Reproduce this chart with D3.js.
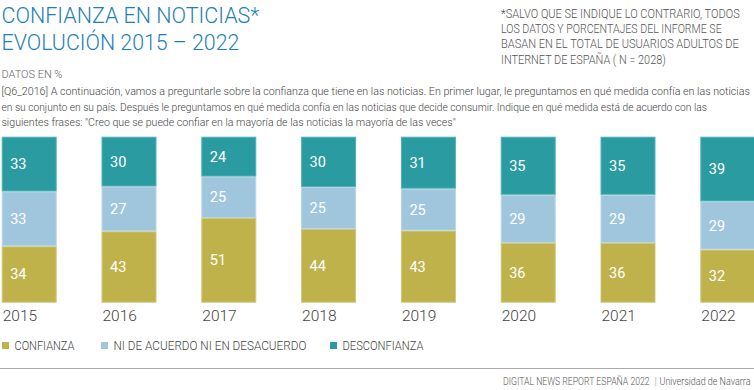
<!DOCTYPE html>
<html><head><meta charset="utf-8">
<script src="https://cdn.jsdelivr.net/npm/d3@7"></script>
<style>
html,body{margin:0;padding:0;background:#fff;}
svg{display:block;}
.cond{font-family:Roboto,"Noto Sans",sans-serif;font-weight:300;}
</style></head>
<body>
<svg id="c" width="754" height="390"></svg>
<script>
const years = ["2015","2016","2017","2018","2019","2020","2021","2022"];
const confianza = [34,43,51,44,43,36,36,32];
const neutral = [33,27,25,25,25,29,29,29];
const desconfianza = [33,30,24,30,31,35,35,39];
const seriesNames = ["CONFIANZA","NI DE ACUERDO NI EN DESACUERDO","DESCONFIANZA"];
const colors = ["#bfb24b","#9fc6dc","#2a9ca1"];
const strokes = ["#cfc57a","#b8d6e7","#4fb2b6"];

const svg = d3.select("#c");
const rows = years.map((y,i)=>({year:y, c:confianza[i], n:neutral[i], d:desconfianza[i]}));
const keys = ["c","n","d"];
const stacked = d3.stack().keys(keys).offset(d3.stackOffsetExpand)(rows);

const x = d3.scaleBand().domain(years).range([1.7,755.3]).paddingInner(0.449).paddingOuter(0);
const y = d3.scaleLinear().domain([0,1]).range([302.7,136.7]);

// condensed text: natural glyphs scaled horizontally to the reference width
function txt(parent, s, xx, yy, size, fill, len, family){
  const t = parent.append("text").attr("class","cond")
    .attr("font-size",size).attr("fill",fill).text(s);
  if(family) t.attr("font-family",family).attr("font-weight",400);
  let k = 1;
  if(len){ const w = t.node().getComputedTextLength(); k = len / w; }
  t.attr("transform",`translate(${xx},${yy}) scale(${k},1)`);
  return t;
}

// titles
txt(svg,"CONFIANZA EN NOTICIAS*",1.5,23,22,"#1d80b6",258);
txt(svg,"EVOLUCIÓN 2015 – 2022",1.5,50,22,"#1d80b6",238);
txt(svg,"DATOS EN %",1.5,78,11.5,"#666",61);

const note = ["*SALVO QUE SE INDIQUE LO CONTRARIO, TODOS","LOS DATOS Y PORCENTAJES DEL INFORME SE","BASAN EN EL TOTAL DE USUARIOS ADULTOS DE","INTERNET DE ESPAÑA ( N = 2028)"];
const noteLen = [239,221,238,165];
note.forEach((s,i)=>txt(svg,s,501,18+i*15.2,12.5,"#555",noteLen[i]));

const para = ["[Q6_2016] A continuación, vamos a preguntarle sobre la confianza que tiene en las noticias. En primer lugar, le preguntamos en qué medida confía en las noticias",
 "en su conjunto en su país. Después le preguntamos en qué medida confía en las noticias que decide consumir. Indique en qué medida está de acuerdo con las",
 "siguientes frases: \"Creo que se puede confiar en la mayoría de las noticias la mayoría de las veces\""];
const paraLen = [749,706,455];
para.forEach((s,i)=>txt(svg,s,1.5,95+i*15.5,11.5,"#444",paraLen[i]));

// bars
const g = svg.append("g");
stacked.forEach((s,si)=>{
  g.selectAll(null).data(s).join("rect")
    .attr("x",d=>x(d.data.year)+0.5)
    .attr("y",d=>y(d[1])+0.5)
    .attr("width",x.bandwidth()-1)
    .attr("height",d=>y(d[0])-y(d[1])-1)
    .attr("fill",colors[si]).attr("stroke",strokes[si]).attr("stroke-width",1);
  g.selectAll(null).data(s).join("text")
    .attr("x",d=>x(d.data.year)+8.5)
    .attr("y",d=>(y(d[0])+y(d[1]))/2+5)
    .attr("fill","#fff").attr("font-family","Roboto, sans-serif").attr("font-size",14.5)
    .text(d=>d.data[keys[si]]);
});

// year axis
const xa = svg.append("g").attr("transform","translate(0,303)")
  .call(d3.axisBottom(x).tickSize(0).tickPadding(0));
xa.select(".domain").remove();
xa.selectAll("text").attr("text-anchor","start").attr("x",x.bandwidth()/-2+1)
  .attr("dy",0).attr("y",18).attr("font-family","Roboto, sans-serif").attr("font-weight",300)
  .attr("font-size",15.5).attr("fill","#444");

// legend
const legX = [2,101,330];
const legLen = [60,193,81];
const lg = svg.append("g");
seriesNames.forEach((name,i)=>{
  lg.append("rect").attr("x",legX[i]).attr("y",342).attr("width",7).attr("height",7).attr("fill",colors[i]);
  txt(lg,name,legX[i]+12.5,349.5,12.5,"#444",legLen[i]);
});

// footer
svg.append("line").attr("x1",0).attr("x2",754).attr("y1",368.5).attr("y2",368.5).attr("stroke","#aaa").attr("stroke-width",1);
txt(svg,"DIGITAL NEWS REPORT ESPAÑA 2022",503,385,10.5,"#555",147);
txt(svg,"|",654.5,385,11,"#999");
txt(svg,"Universidad de Navarra",659.5,385,10,"#555",91,"'Open Sans', sans-serif");
</script>
</body></html>
